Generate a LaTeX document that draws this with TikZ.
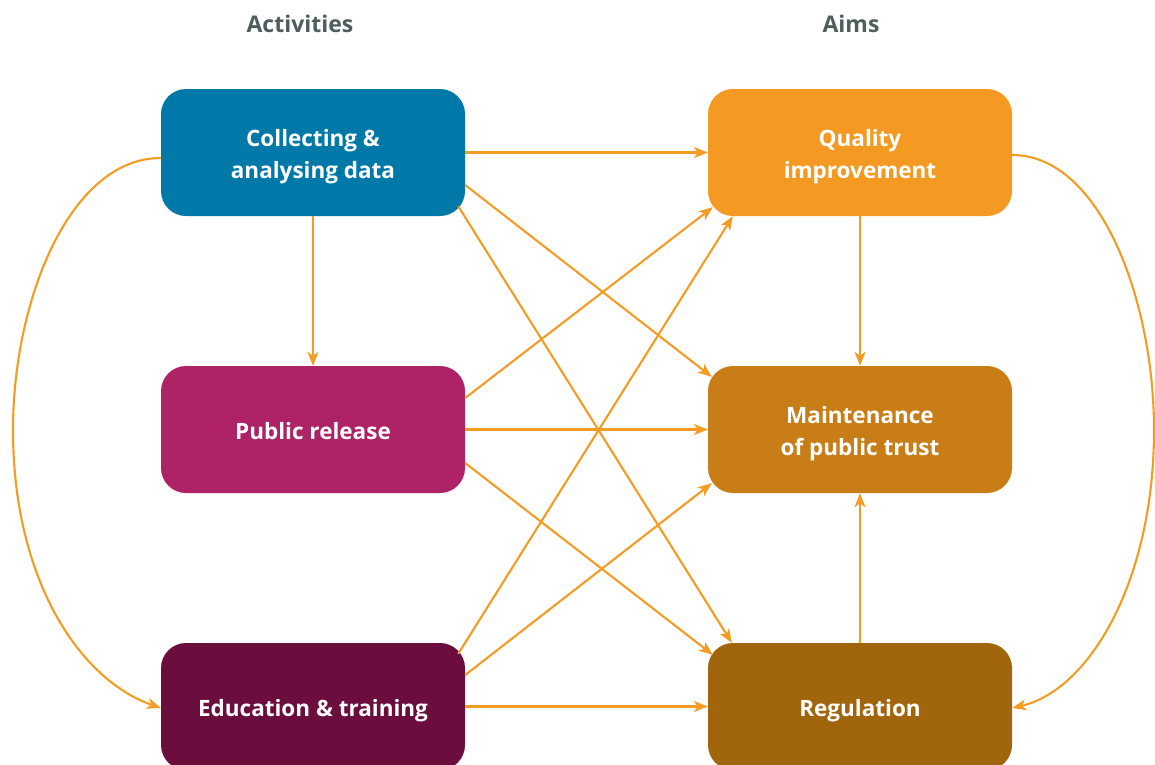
\documentclass[tikz,border=0pt]{standalone}
\usepackage{fontspec}
\setmainfont{Open Sans}
\usetikzlibrary{arrows.meta}
\definecolor{cblue}{HTML}{0079A9}
\definecolor{cmag}{HTML}{AE2266}
\definecolor{cdark}{HTML}{6B0E3D}
\definecolor{cqual}{HTML}{F49A22}
\definecolor{cmaint}{HTML}{C97D17}
\definecolor{creg}{HTML}{A1650B}
\definecolor{carrow}{HTML}{F49B23}
\definecolor{chead}{HTML}{4E5D5E}
\newcommand\tstrut{\rule[-5.6pt]{0pt}{30.6pt}}
\tikzset{
  box/.style={rounded corners=25pt, minimum width=304pt, minimum height=127pt,
    inner sep=0pt, text=white, align=center,
    font=\fontsize{22.5}{32}\selectfont\bfseries},
  head/.style={text=chead, font=\fontsize{23}{27}\selectfont\bfseries},
  conn/.style={draw=carrow, line width=2.1pt,
    -{Stealth[length=14pt, width=11pt, inset=4pt]}},
}
\begin{document}
\begin{tikzpicture}[x=1pt,y=-1pt]
\useasboundingbox (0,0) rectangle (1155,764);
\clip (0,0) rectangle (1155,764);
\node[head] (hact) at (300,24) {Activities};
\node[head] (haim) at (851,24) {Aims};

\node[box, fill=cblue] (coll) at (313,152.5) {\tstrut Collecting \&\\\tstrut analysing data};
\node[box, fill=cmag] (pub) at (313,429.5) {\tstrut Public release};
\node[box, fill=cdark] (edu) at (313,706.5) {\tstrut Education \& training};
\node[box, fill=cqual] (qual) at (860,152.5) {\tstrut Quality\\\tstrut improvement};
\node[box, fill=cmaint] (maint) at (860,429.5) {\tstrut Maintenance\\\tstrut of public trust};
\node[box, fill=creg] (reg) at (860,706.5) {\tstrut Regulation};

\draw[conn] (coll.east) -- (qual.west);
\draw[conn] ([shift={(0,32.5)}]coll.east) -- ([shift={(4,11)}]maint.north west);
\draw[conn] ([shift={(-7,-10)}]coll.south east) -- ([shift={(24,0)}]reg.north west);
\draw[conn] (coll.south) -- (pub.north);
\draw[conn] ([shift={(0,-31.5)}]pub.east) -- ([shift={(5,-9)}]qual.south west);
\draw[conn] (pub.east) -- (maint.west);
\draw[conn] ([shift={(0,33.5)}]pub.east) -- ([shift={(5,12)}]reg.north west);
\draw[conn] ([shift={(-7,11)}]edu.north east) -- ([shift={(25,0)}]qual.south west);
\draw[conn] ([shift={(0,-31.5)}]edu.east) -- ([shift={(4,-10)}]maint.south west);
\draw[conn] (edu.east) -- (reg.west);
\draw[conn] (qual.south) -- (maint.north);
\draw[conn] (reg.north) -- (maint.south);

\coordinate (lmid) at (13,430);
\coordinate (rmid) at (1154,430);
\draw[conn] ([shift={(0,5.5)}]coll.west) .. controls (70,158) and (13,300) .. (lmid)
  .. controls (13,580) and (80,680) .. ([shift={(0,1.5)}]edu.west);
\draw[conn] ([shift={(0,2.5)}]qual.east) .. controls (1100,155) and (1154,300) .. (rmid)
  .. controls (1154,580) and (1090,690) .. ([shift={(0,1.5)}]reg.east);
\end{tikzpicture}
\end{document}
